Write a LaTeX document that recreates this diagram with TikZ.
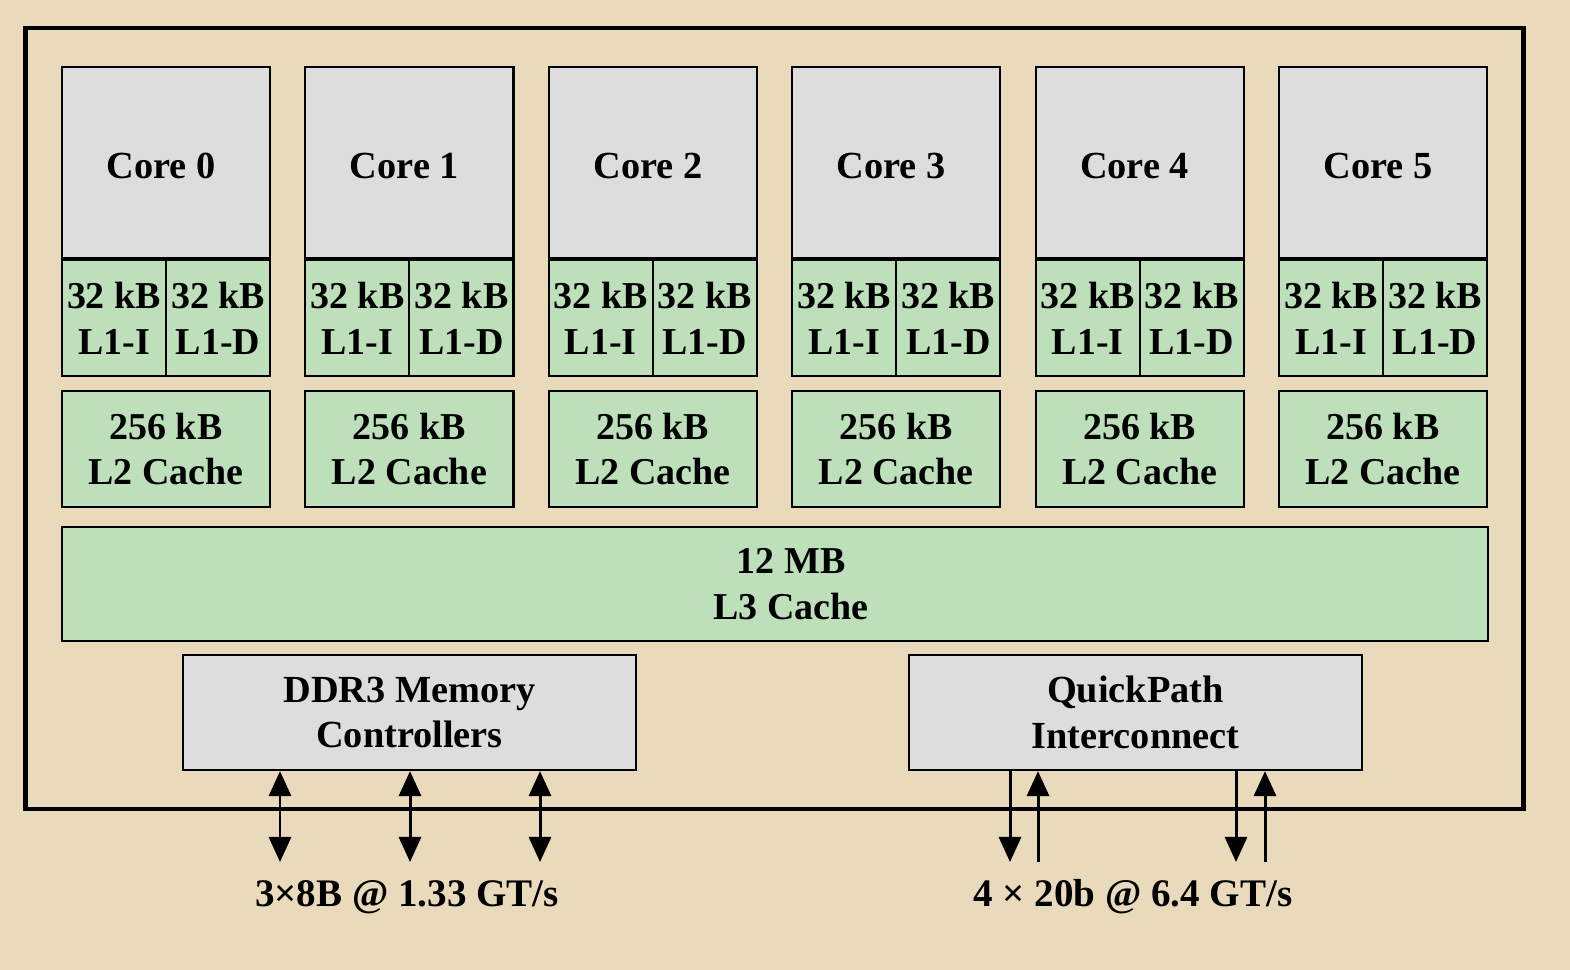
\documentclass[tikz,border=0pt]{standalone}
\usepackage{fontspec}
\setmainfont{Liberation Serif}
\usepackage{tikz}
\usetikzlibrary{positioning,arrows.meta}

\definecolor{parch}{RGB}{232,218,186}
\definecolor{cachegreen}{RGB}{189,224,187}
\definecolor{coregray}{RGB}{221,221,221}

\tikzset{
  blk/.style={draw, line width=0.6pt, inner sep=0pt, align=center,
    font=\bfseries\fontsize{10.8}{13}\selectfont},
  corebox/.style={blk, fill=coregray, minimum width=2.08cm, minimum height=1.91cm},
  l1box/.style={blk, fill=cachegreen, minimum width=1.04cm, minimum height=1.16cm},
  l2box/.style={blk, fill=cachegreen, minimum width=2.08cm, minimum height=1.16cm},
  ctrlbox/.style={blk, fill=coregray, minimum width=4.53cm, minimum height=1.15cm,
    font=\bfseries\fontsize{10.9}{13}\selectfont},
  bus/.style={line width=0.85pt, -{Triangle[length=0.25cm,width=0.22cm]}},
  busboth/.style={line width=0.85pt, {Triangle[length=0.25cm,width=0.22cm]}-{Triangle[length=0.25cm,width=0.22cm]}},
  bwlabel/.style={font=\bfseries\fontsize{11.1}{13}\selectfont, inner sep=0pt}
}

\begin{document}
\begin{tikzpicture}[x=0.01cm, y=-0.01cm]

\fill[parch] (0,0) rectangle (1570,970);
\useasboundingbox (0,0) rectangle (1570,970);

% Chip outline
\node[draw, line width=1.2pt, minimum width=14.97cm, minimum height=7.81cm, inner sep=0pt] (chip) at (774.5,418.5) {};

% Cores with L1 and L2 caches
\foreach \x/\n in {166/0, 409.4/1, 652.8/2, 896.2/3, 1139.6/4, 1383/5}
{
  \node[corebox, label={[font=\bfseries\fontsize{10.9}{13}\selectfont, xshift=-0.05cm, yshift=-0.03cm]center:Core \n}] (core\n) at (\x,162.5) {};
  \node[l1box, anchor=north west] (l1i\n) at (core\n.south west) {32 kB\\L1-I};
  \node[l1box, anchor=north east] (l1d\n) at (core\n.south east) {32 kB\\L1-D};
  \node[l2box] (l2\n) at (\x,449) {256 kB\\L2 Cache};
}

% Shared L3
\node[blk, fill=cachegreen, minimum width=14.26cm, minimum height=1.14cm,
  label={[align=center, font=\bfseries\fontsize{10.8}{13}\selectfont, xshift=0.16cm]center:12 MB\\L3 Cache}] (l3) at (775,584) {};

% Controllers
\node[ctrlbox] (ddr) at (409.5,712.5) {DDR3 Memory\\Controllers};
\node[ctrlbox] (qpi) at (1135.5,712.5) {QuickPath\\Interconnect};

% Memory channels
\foreach \x [count=\k] in {280,410,540}
{
  \coordinate (dpin\k) at (\x,862);
  \draw[busboth] (ddr.south -| dpin\k) -- (dpin\k);
}
\node[bwlabel] (ddrbw) at (407,897) {3×8B @ 1.33 GT/s};

% QPI links
\foreach \xo/\xi [count=\k] in {1010/1038, 1236/1265}
{
  \coordinate (qout\k) at (\xo,862);
  \coordinate (qin\k) at (\xi,862);
  \draw[bus] (qpi.south -| qout\k) -- (qout\k);
  \draw[bus] (qin\k) -- (qpi.south -| qin\k);
}
\node[bwlabel] (qpibw) at (1133,897) {4 × 20b @ 6.4 GT/s};

\end{tikzpicture}
\end{document}
